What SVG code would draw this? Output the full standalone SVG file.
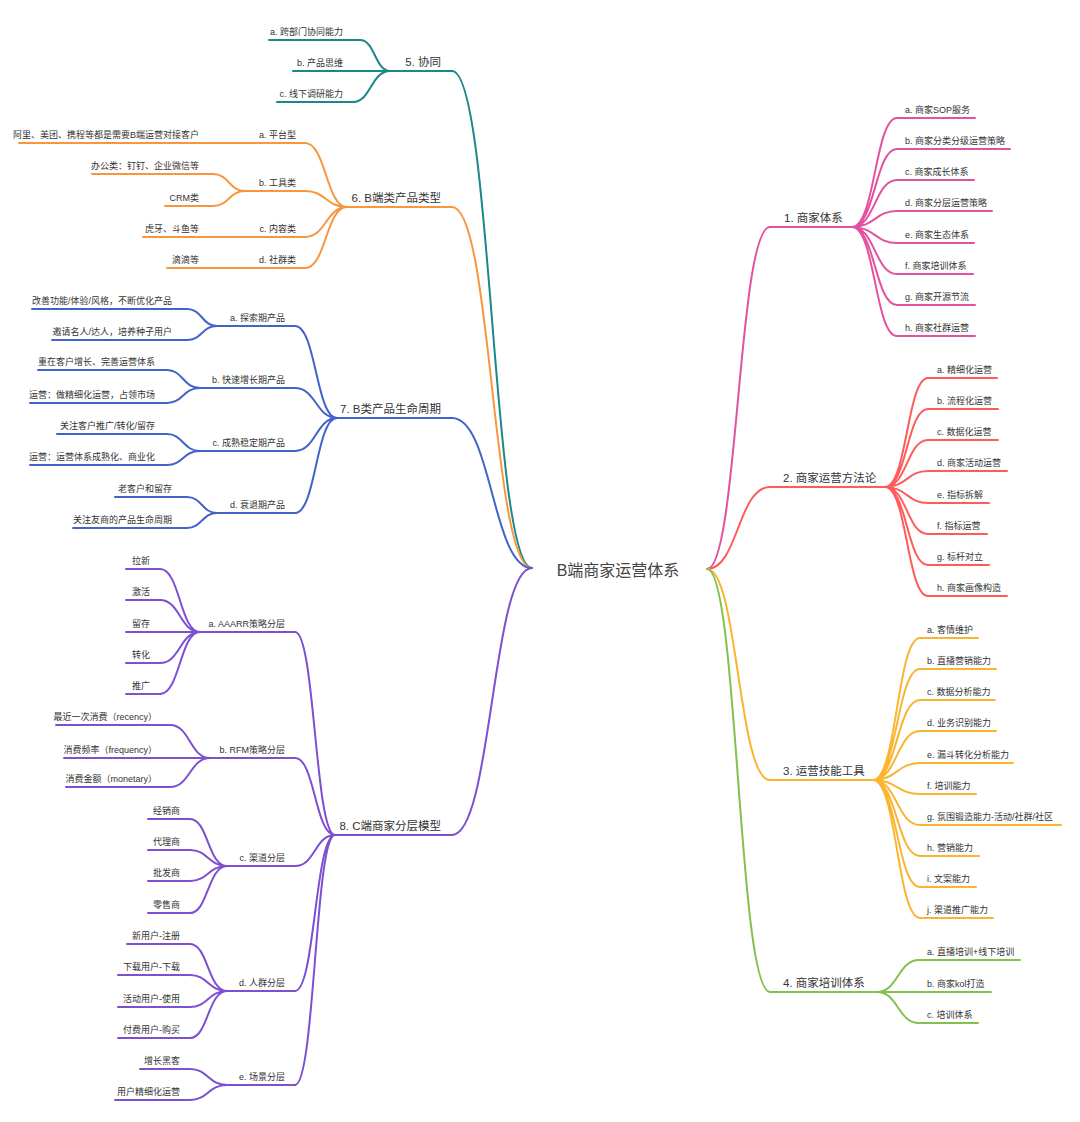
<svg xmlns="http://www.w3.org/2000/svg" width="1080" height="1122" viewBox="0 0 1080 1122">
<style>
text{font-family:"Liberation Sans","Noto Sans CJK SC",sans-serif;fill:#333}
.root{font-size:16px;text-anchor:middle;fill:#444}
.t1{font-size:11.5px}
.t2{font-size:9px}
.e{text-anchor:end}
path{fill:none;stroke-width:2;stroke-linecap:round}
.c1{stroke:#e3529e}.c2{stroke:#ff5b5b}.c3{stroke:#fbb430}.c4{stroke:#83c14d}
.c5{stroke:#1b878a}.c6{stroke:#f7963e}.c7{stroke:#4263c9}.c8{stroke:#7d4fd1}
</style>
<rect width="1080" height="1122" fill="#fff"/>
<g id="connectors">
<path class="c5" d="M532 568C492 568 492 71 452 71"/>
<path class="c6" d="M532 568C492 568 492 207 452 207"/>
<path class="c7" d="M532 568C492 568 492 418 452 418"/>
<path class="c8" d="M532 568C492 568 492 835 452 835"/>
<path class="c1" d="M707 569C738 569 738 227 770 227"/>
<path class="c2" d="M707 569C738 569 738 487 770 487"/>
<path class="c3" d="M707 569C738 569 738 780 770 780"/>
<path class="c4" d="M707 569C738 569 738 992 770 992"/>
<path class="c5" d="M390 71C375 71 375 40 360 40M390 71H370M390 71C371 71 371 102 353 102"/>
<path class="c6" d="M347 207C326 207 326 143 305 143M347 207C326 207 326 191 305 191M347 207C326 207 326 237 305 237M347 207C326 207 326 268 305 268"/>
<path class="c6" d="M245 191C229 191 229 174 213 174M245 191C229 191 229 206 213 206M255 143H200M250 237H190M250 268H190"/>
<path class="c7" d="M337 418C316 418 316 326 295 326M337 418C316 418 316 388 295 388M337 418C316 418 316 451 295 451M337 418C316 418 316 513 295 513"/>
<path class="c7" d="M217 326C202 326 202 309 187 309M217 326C202 326 202 340 187 340"/>
<path class="c7" d="M200 388C183 388 183 370 167 370M200 388C183 388 183 403 167 403"/>
<path class="c7" d="M200 451C183 451 183 434 167 434M200 451C183 451 183 465 167 465"/>
<path class="c7" d="M217 513C202 513 202 497 187 497M217 513C202 513 202 528 187 528"/>
<path class="c8" d="M335 835C315 835 315 632 295 632M335 835C315 835 315 758 295 758M335 835C315 835 315 866 295 866M335 835C315 835 315 991 295 991M335 835C315 835 315 1085 295 1085"/>
<path class="c8" d="M200 632C180 632 180 569 160 569M200 632C180 632 180 600 160 600M200 632H160M200 632C180 632 180 663 160 663M200 632C180 632 180 694 160 694"/>
<path class="c8" d="M210 758C190 758 190 725 170 725M210 758H170M210 758C190 758 190 787 170 787"/>
<path class="c8" d="M227 866C208 866 208 819 190 819M227 866C208 866 208 850 190 850M227 866C208 866 208 881 190 881M227 866C208 866 208 913 190 913"/>
<path class="c8" d="M227 991C208 991 208 944 190 944M227 991C208 991 208 975 190 975M227 991C208 991 208 1007 190 1007M227 991C208 991 208 1038 190 1038"/>
<path class="c8" d="M227 1085C208 1085 208 1069 190 1069M227 1085C208 1085 208 1100 190 1100"/>
<path class="c1" d="M852 227C875 227 875 118 897 118M852 227C875 227 875 149 897 149M852 227C875 227 875 180 897 180M852 227C875 227 875 211 897 211M852 227C875 227 875 243 897 243M852 227C875 227 875 274 897 274M852 227C875 227 875 305 897 305M852 227C875 227 875 336 897 336"/>
<path class="c2" d="M885 487C907 487 907 378 928 378M885 487C907 487 907 409 928 409M885 487C907 487 907 440 928 440M885 487C907 487 907 471 928 471M885 487C907 487 907 503 928 503M885 487C907 487 907 534 928 534M885 487C907 487 907 565 928 565M885 487C907 487 907 596 928 596"/>
<path class="c3" d="M873 780C897 780 897 638 920 638M873 780C897 780 897 669 920 669M873 780C897 780 897 700 920 700M873 780C897 780 897 731 920 731M873 780C897 780 897 763 920 763M873 780C897 780 897 794 920 794M873 780C897 780 897 825 920 825M873 780C897 780 897 856 920 856M873 780C897 780 897 887 920 887M873 780C897 780 897 918 920 918"/>
<path class="c4" d="M877 992C898 992 898 960 919 960M877 992H919M877 992C898 992 898 1023 919 1023"/>
</g>
<g id="root"><text class="root" x="618" y="576">B端商家运营体系</text></g>
<g id="n5"><path class="c5" d="M390 71H452"/><text class="t1 e" x="441" y="66">5. 协同</text></g>
<g id="n5a"><path class="c5" d="M269 40H360"/><text class="t2 e" x="343" y="35">a. 跨部门协同能力</text></g>
<g id="n5b"><path class="c5" d="M293 71H370"/><text class="t2 e" x="343" y="66">b. 产品思维</text></g>
<g id="n5c"><path class="c5" d="M277 102H353"/><text class="t2 e" x="343" y="97">c. 线下调研能力</text></g>
<g id="n6"><path class="c6" d="M347 207H452"/><text class="t1 e" x="441" y="202">6. B端类产品类型</text></g>
<g id="n6a"><path class="c6" d="M255 143H305"/><text class="t2 e" x="296" y="138">a. 平台型</text></g>
<g id="n6a1"><path class="c6" d="M19 143H200"/><text class="t2 e" x="199" y="138">阿里、美团、携程等都是需要B端运营对接客户</text></g>
<g id="n6b"><path class="c6" d="M245 191H305"/><text class="t2 e" x="296" y="186">b. 工具类</text></g>
<g id="n6b1"><path class="c6" d="M92 174H213"/><text class="t2 e" x="199" y="169">办公类：钉钉、企业微信等</text></g>
<g id="n6b2"><path class="c6" d="M165 206H213"/><text class="t2 e" x="199" y="201">CRM类</text></g>
<g id="n6c"><path class="c6" d="M250 237H305"/><text class="t2 e" x="296" y="232">c. 内容类</text></g>
<g id="n6c1"><path class="c6" d="M143 237H190"/><text class="t2 e" x="199" y="232">虎牙、斗鱼等</text></g>
<g id="n6d"><path class="c6" d="M250 268H305"/><text class="t2 e" x="296" y="263">d. 社群类</text></g>
<g id="n6d1"><path class="c6" d="M167 268H190"/><text class="t2 e" x="199" y="263">滴滴等</text></g>
<g id="n7"><path class="c7" d="M337 418H452"/><text class="t1 e" x="441" y="413">7. B类产品生命周期</text></g>
<g id="n7a"><path class="c7" d="M217 326H295"/><text class="t2 e" x="285" y="321">a. 探索期产品</text></g>
<g id="n7a1"><path class="c7" d="M32 309H187"/><text class="t2 e" x="172" y="304">改善功能/体验/风格，不断优化产品</text></g>
<g id="n7a2"><path class="c7" d="M52 340H187"/><text class="t2 e" x="172" y="335">邀请名人/达人，培养种子用户</text></g>
<g id="n7b"><path class="c7" d="M200 388H295"/><text class="t2 e" x="285" y="383">b. 快速增长期产品</text></g>
<g id="n7b1"><path class="c7" d="M38 370H167"/><text class="t2 e" x="155" y="365">重在客户增长、完善运营体系</text></g>
<g id="n7b2"><path class="c7" d="M30 403H167"/><text class="t2 e" x="155" y="398">运营：做精细化运营，占领市场</text></g>
<g id="n7c"><path class="c7" d="M200 451H295"/><text class="t2 e" x="285" y="446">c. 成熟稳定期产品</text></g>
<g id="n7c1"><path class="c7" d="M57 434H167"/><text class="t2 e" x="155" y="429">关注客户推广/转化/留存</text></g>
<g id="n7c2"><path class="c7" d="M30 465H167"/><text class="t2 e" x="155" y="460">运营：运营体系成熟化、商业化</text></g>
<g id="n7d"><path class="c7" d="M217 513H295"/><text class="t2 e" x="285" y="508">d. 衰退期产品</text></g>
<g id="n7d1"><path class="c7" d="M115 497H187"/><text class="t2 e" x="172" y="492">老客户和留存</text></g>
<g id="n7d2"><path class="c7" d="M73 528H187"/><text class="t2 e" x="172" y="523">关注友商的产品生命周期</text></g>
<g id="n8"><path class="c8" d="M335 835H452"/><text class="t1 e" x="441" y="830">8. C端商家分层模型</text></g>
<g id="n8a"><path class="c8" d="M200 632H295"/><text class="t2 e" x="285" y="627">a. AAARR策略分层</text></g>
<g id="n8a1"><path class="c8" d="M126 569H160"/><text class="t2 e" x="150" y="564">拉新</text></g>
<g id="n8a2"><path class="c8" d="M126 600H160"/><text class="t2 e" x="150" y="595">激活</text></g>
<g id="n8a3"><path class="c8" d="M126 632H160"/><text class="t2 e" x="150" y="627">留存</text></g>
<g id="n8a4"><path class="c8" d="M126 663H160"/><text class="t2 e" x="150" y="658">转化</text></g>
<g id="n8a5"><path class="c8" d="M126 694H160"/><text class="t2 e" x="150" y="689">推广</text></g>
<g id="n8b"><path class="c8" d="M210 758H295"/><text class="t2 e" x="285" y="753">b. RFM策略分层</text></g>
<g id="n8b1"><path class="c8" d="M56 725H170"/><text class="t2 e" x="157" y="720">最近一次消费（recency）</text></g>
<g id="n8b2"><path class="c8" d="M64 758H170"/><text class="t2 e" x="157" y="753">消费频率（frequency）</text></g>
<g id="n8b3"><path class="c8" d="M66 787H170"/><text class="t2 e" x="157" y="782">消费金额（monetary）</text></g>
<g id="n8c"><path class="c8" d="M227 866H295"/><text class="t2 e" x="285" y="861">c. 渠道分层</text></g>
<g id="n8c1"><path class="c8" d="M148 819H190"/><text class="t2 e" x="180" y="814">经销商</text></g>
<g id="n8c2"><path class="c8" d="M148 850H190"/><text class="t2 e" x="180" y="845">代理商</text></g>
<g id="n8c3"><path class="c8" d="M148 881H190"/><text class="t2 e" x="180" y="876">批发商</text></g>
<g id="n8c4"><path class="c8" d="M148 913H190"/><text class="t2 e" x="180" y="908">零售商</text></g>
<g id="n8d"><path class="c8" d="M227 991H295"/><text class="t2 e" x="285" y="986">d. 人群分层</text></g>
<g id="n8d1"><path class="c8" d="M127 944H190"/><text class="t2 e" x="180" y="939">新用户-注册</text></g>
<g id="n8d2"><path class="c8" d="M118 975H190"/><text class="t2 e" x="180" y="970">下载用户-下载</text></g>
<g id="n8d3"><path class="c8" d="M118 1007H190"/><text class="t2 e" x="180" y="1002">活动用户-使用</text></g>
<g id="n8d4"><path class="c8" d="M118 1038H190"/><text class="t2 e" x="180" y="1033">付费用户-购买</text></g>
<g id="n8e"><path class="c8" d="M227 1085H295"/><text class="t2 e" x="285" y="1080">e. 场景分层</text></g>
<g id="n8e1"><path class="c8" d="M140 1069H190"/><text class="t2 e" x="180" y="1064">增长黑客</text></g>
<g id="n8e2"><path class="c8" d="M115 1100H190"/><text class="t2 e" x="180" y="1095">用户精细化运营</text></g>
<g id="n1"><path class="c1" d="M770 227H852"/><text class="t1" x="784" y="222">1. 商家体系</text></g>
<g id="n1a"><path class="c1" d="M897 118H975"/><text class="t2" x="905" y="113">a. 商家SOP服务</text></g>
<g id="n1b"><path class="c1" d="M897 149H1010"/><text class="t2" x="905" y="144">b. 商家分类分级运营策略</text></g>
<g id="n1c"><path class="c1" d="M897 180H974"/><text class="t2" x="905" y="175">c. 商家成长体系</text></g>
<g id="n1d"><path class="c1" d="M897 211H992"/><text class="t2" x="905" y="206">d. 商家分层运营策略</text></g>
<g id="n1e"><path class="c1" d="M897 243H974"/><text class="t2" x="905" y="238">e. 商家生态体系</text></g>
<g id="n1f"><path class="c1" d="M897 274H973"/><text class="t2" x="905" y="269">f. 商家培训体系</text></g>
<g id="n1g"><path class="c1" d="M897 305H975"/><text class="t2" x="905" y="300">g. 商家开源节流</text></g>
<g id="n1h"><path class="c1" d="M897 336H975"/><text class="t2" x="905" y="331">h. 商家社群运营</text></g>
<g id="n2"><path class="c2" d="M770 487H885"/><text class="t1" x="783" y="482">2. 商家运营方法论</text></g>
<g id="n2a"><path class="c2" d="M928 378H997"/><text class="t2" x="937" y="373">a. 精细化运营</text></g>
<g id="n2b"><path class="c2" d="M928 409H998"/><text class="t2" x="937" y="404">b. 流程化运营</text></g>
<g id="n2c"><path class="c2" d="M928 440H998"/><text class="t2" x="937" y="435">c. 数据化运营</text></g>
<g id="n2d"><path class="c2" d="M928 471H1007"/><text class="t2" x="937" y="466">d. 商家活动运营</text></g>
<g id="n2e"><path class="c2" d="M928 503H989"/><text class="t2" x="937" y="498">e. 指标拆解</text></g>
<g id="n2f"><path class="c2" d="M928 534H987"/><text class="t2" x="937" y="529">f. 指标运营</text></g>
<g id="n2g"><path class="c2" d="M928 565H989"/><text class="t2" x="937" y="560">g. 标杆对立</text></g>
<g id="n2h"><path class="c2" d="M928 596H1007"/><text class="t2" x="937" y="591">h. 商家画像构造</text></g>
<g id="n3"><path class="c3" d="M770 780H873"/><text class="t1" x="783" y="775">3. 运营技能工具</text></g>
<g id="n3a"><path class="c3" d="M920 638H978"/><text class="t2" x="927" y="633">a. 客情维护</text></g>
<g id="n3b"><path class="c3" d="M920 669H996"/><text class="t2" x="927" y="664">b. 直播营销能力</text></g>
<g id="n3c"><path class="c3" d="M920 700H995"/><text class="t2" x="927" y="695">c. 数据分析能力</text></g>
<g id="n3d"><path class="c3" d="M920 731H996"/><text class="t2" x="927" y="726">d. 业务识别能力</text></g>
<g id="n3e"><path class="c3" d="M920 763H1013"/><text class="t2" x="927" y="758">e. 漏斗转化分析能力</text></g>
<g id="n3f"><path class="c3" d="M920 794H976"/><text class="t2" x="927" y="789">f. 培训能力</text></g>
<g id="n3g"><path class="c3" d="M920 825H1061"/><text class="t2" x="927" y="820">g. 氛围锻造能力-活动/社群/社区</text></g>
<g id="n3h"><path class="c3" d="M920 856H979"/><text class="t2" x="927" y="851">h. 营销能力</text></g>
<g id="n3i"><path class="c3" d="M920 887H976"/><text class="t2" x="927" y="882">i. 文案能力</text></g>
<g id="n3j"><path class="c3" d="M920 918H993"/><text class="t2" x="927" y="913">j. 渠道推广能力</text></g>
<g id="n4"><path class="c4" d="M770 992H877"/><text class="t1" x="783" y="987">4. 商家培训体系</text></g>
<g id="n4a"><path class="c4" d="M919 960H1020"/><text class="t2" x="927" y="955">a. 直播培训+线下培训</text></g>
<g id="n4b"><path class="c4" d="M919 992H991"/><text class="t2" x="927" y="987">b. 商家kol打造</text></g>
<g id="n4c"><path class="c4" d="M919 1023H978"/><text class="t2" x="927" y="1018">c. 培训体系</text></g>
</svg>
